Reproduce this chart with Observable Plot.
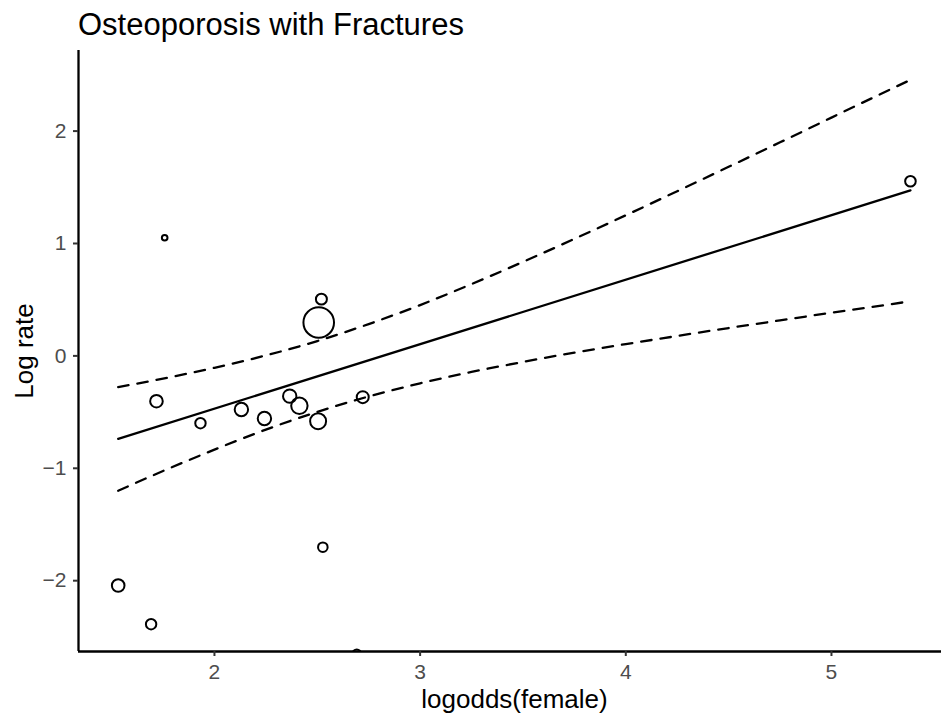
<!DOCTYPE html>
<html>
<head>
<meta charset="utf-8">
<script src="https://cdn.jsdelivr.net/npm/d3@7"></script>
<script src="https://cdn.jsdelivr.net/npm/@observablehq/plot@0.6"></script>
<style>
  html, body { margin: 0; padding: 0; background: #ffffff; }
  #wrap { width: 941px; height: 724px; position: relative; overflow: hidden; font-family: "Liberation Sans", Arial, Helvetica, sans-serif; }
  #title { position: relative; height: 44px; }
  #title span { position: absolute; left: 78px; top: 9px; font-size: 31px; line-height: 1; color: #000; white-space: nowrap; }
</style>
</head>
<body>
<div id="wrap">
  <div id="title"><span>Osteoporosis with Fractures</span></div>
  <div id="chart"></div>
</div>
<script>
// ---- data ----
const titleText = "Osteoporosis with Fractures";
const xLabel = "logodds(female)";
const yLabel = "Log rate";

// study points: logodds(female), log rate, weight (marker area)
const studyX = [1.532, 1.692, 1.758, 1.718, 1.932, 2.131, 2.243, 2.366, 2.413, 2.504, 2.507, 2.520, 2.527, 2.721, 2.692, 5.384];
const studyY = [-2.043, -2.387, 1.051, -0.403, -0.599, -0.477, -0.557, -0.358, -0.444, -0.581, 0.297, 0.505, -1.702, -0.367, -2.650, 1.554];
const studyW = [17.0, 11.6, 3.4, 17.0, 11.6, 19.2, 19.2, 19.2, 28.7, 27.3, 100, 12.9, 9.8, 15.4, 7.9, 12.0];

// fitted regression line
const fitX = [1.532, 5.384];
const fitY = [-0.738, 1.472];

// confidence band (dashed)
const ciX     = [1.532, 1.75, 2.0, 2.25, 2.5, 2.75, 3.0, 3.25, 3.5, 3.75, 4.0, 4.25, 4.5, 4.75, 5.0, 5.2, 5.384];
const ciUpper = [-0.278, -0.202, -0.106, 0.004, 0.132, 0.283, 0.452, 0.639, 0.836, 1.041, 1.251, 1.465, 1.682, 1.900, 2.120, 2.296, 2.456];
const ciLower = [-1.200, -1.024, -0.834, -0.656, -0.498, -0.361, -0.244, -0.143, -0.054, 0.029, 0.105, 0.177, 0.248, 0.316, 0.384, 0.436, 0.486];

// axes
const xTicks = [2, 3, 4, 5];
const yTicks = [-2, -1, 0, 1, 2];
const xDomain = [1.339, 5.535];
const yDomain = [-2.630, 2.717];

// ---- build tables ----
const studies = studyX.map((x, i) => ({x, y: studyY[i], w: studyW[i]}));
const fit = fitX.map((x, i) => ({x, y: fitY[i]}));
const ci = ciX.map((x, i) => ({x, upper: ciUpper[i], lower: ciLower[i]}));

const fmt = d => d < 0 ? "\u2212" + Math.abs(d) : String(d);
const font = "'Liberation Sans', Arial, Helvetica, sans-serif";

const chart = Plot.plot({
  width: 941,
  height: 680,
  marginLeft: 78,
  marginRight: 0,
  marginTop: 6,
  marginBottom: 73,
  style: {fontFamily: font, background: "#ffffff", overflow: "visible"},
  x: {domain: xDomain},
  y: {domain: yDomain},
  r: {type: "sqrt", domain: [0, 100], range: [0, 15.3]},
  marks: [
    Plot.dot(studies, {x: "x", y: "y", r: "w", stroke: "#000000", strokeWidth: 2, fill: "none", clip: true}),
    Plot.line(fit, {x: "x", y: "y", stroke: "#000000", strokeWidth: 2.3}),
    Plot.line(ci, {x: "x", y: "upper", stroke: "#000000", strokeWidth: 2.3, strokeDasharray: "10.5,9", curve: "monotone-x"}),
    Plot.line(ci, {x: "x", y: "lower", stroke: "#000000", strokeWidth: 2.3, strokeDasharray: "10.5,9", curve: "monotone-x"}),
    Plot.ruleX([xDomain[0]], {stroke: "#000000", strokeWidth: 2.3}),
    Plot.ruleY([yDomain[0]], {stroke: "#000000", strokeWidth: 2.3}),
    Plot.axisX({ticks: xTicks, tickFormat: fmt, tickSize: 5, tickPadding: 8, fontSize: 21, stroke: "#333333", fill: "#4D4D4D", strokeWidth: 2, label: null}),
    Plot.axisY({ticks: yTicks, tickFormat: fmt, tickSize: 5, tickPadding: 7, fontSize: 21, stroke: "#333333", fill: "#4D4D4D", strokeWidth: 2, label: null}),
    Plot.text([xLabel], {frameAnchor: "bottom", textAnchor: "middle", lineAnchor: "bottom", dx: 4.5, dy: 56, fontSize: 26, fill: "#000000"}),
    Plot.text([yLabel], {frameAnchor: "left", textAnchor: "middle", lineAnchor: "bottom", rotate: -90, dx: -46, dy: 0, fontSize: 26, fill: "#000000"})
  ]
});
document.getElementById("chart").appendChild(chart);
</script>
</body>
</html>
